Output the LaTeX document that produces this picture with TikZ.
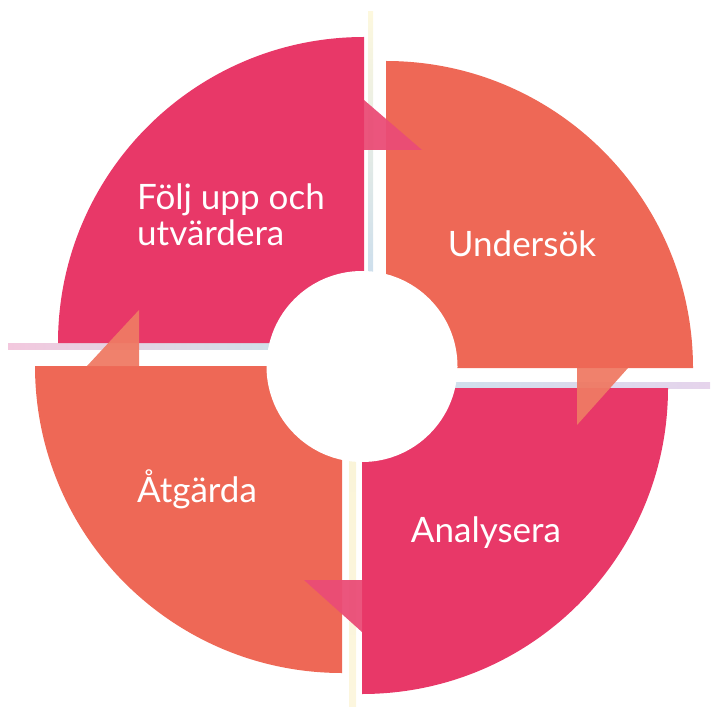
\documentclass[tikz,border=0pt]{standalone}
\usepackage{fontspec}
\setmainfont{Lato}
\definecolor{pinkc}{RGB}{232,56,104}
\definecolor{orangec}{RGB}{238,104,86}
\definecolor{pinktri}{RGB}{234,76,118}
\definecolor{orangetri}{RGB}{239,122,100}
\tikzset{
  lbl/.style={text=white, font=\fontsize{35}{40}\selectfont, inner sep=0pt, align=left}
}
\begin{document}
\begin{tikzpicture}[x=1pt,y=-1pt]
\useasboundingbox (0,0) rectangle (711,708);
% gap lines
\shade[top color={rgb,255:red,253;green,248;blue,222}, bottom color={rgb,255:red,200;green,220;blue,238}] (368,12) rectangle (373,300);
\shade[top color={rgb,255:red,250;green,244;blue,215}, bottom color={rgb,255:red,252;green,246;blue,222}] (349,420) rectangle (356,706);
\shade[left color={rgb,255:red,243;green,200;blue,222}, right color={rgb,255:red,205;green,227;blue,234}] (8,343) rectangle (300,349);
\shade[left color={rgb,255:red,205;green,225;blue,236}, right color={rgb,255:red,230;green,212;blue,236}] (420,382) rectangle (710,388);
% sectors
\fill[pinkc] (364,343) -- ++(180:306) arc[start angle=180, end angle=270, radius=306] -- cycle;
\fill[orangec] (386,368) -- ++(270:307) arc[start angle=270, end angle=360, radius=307] -- cycle;
\fill[pinkc] (362,388) -- ++(0:306) arc[start angle=0, end angle=90, radius=306] -- cycle;
\fill[orangec] (342,366) -- ++(90:307) arc[start angle=90, end angle=180, radius=307] -- cycle;
% arrow tips
\fill[pinktri, opacity=0.95] (364,100) -- (422,150) -- (364,150) -- cycle;
\fill[orangetri, opacity=0.95] (577,368) -- (628,368) -- (577,425) -- cycle;
\fill[pinktri, opacity=0.95] (362,580) -- (304,580) -- (362,632) -- cycle;
\fill[orangetri, opacity=0.95] (139,366) -- (87,366) -- (139,310) -- cycle;
% centre hole
\fill[white] (362,366.5) circle[radius=95.5];
% labels
\node[lbl, anchor=base west] (follow) at (137,210) {Följ upp och};
\node[lbl, anchor=base west] (follow2) at (137,246) {utvärdera};
\node[lbl, anchor=base] (investigate) at (522,257) {Undersök};
\node[lbl, anchor=base] (analyse) at (486,542) {Analysera};
\node[lbl, anchor=base] (act) at (197,502) {Åtgärda};
\end{tikzpicture}
\end{document}
